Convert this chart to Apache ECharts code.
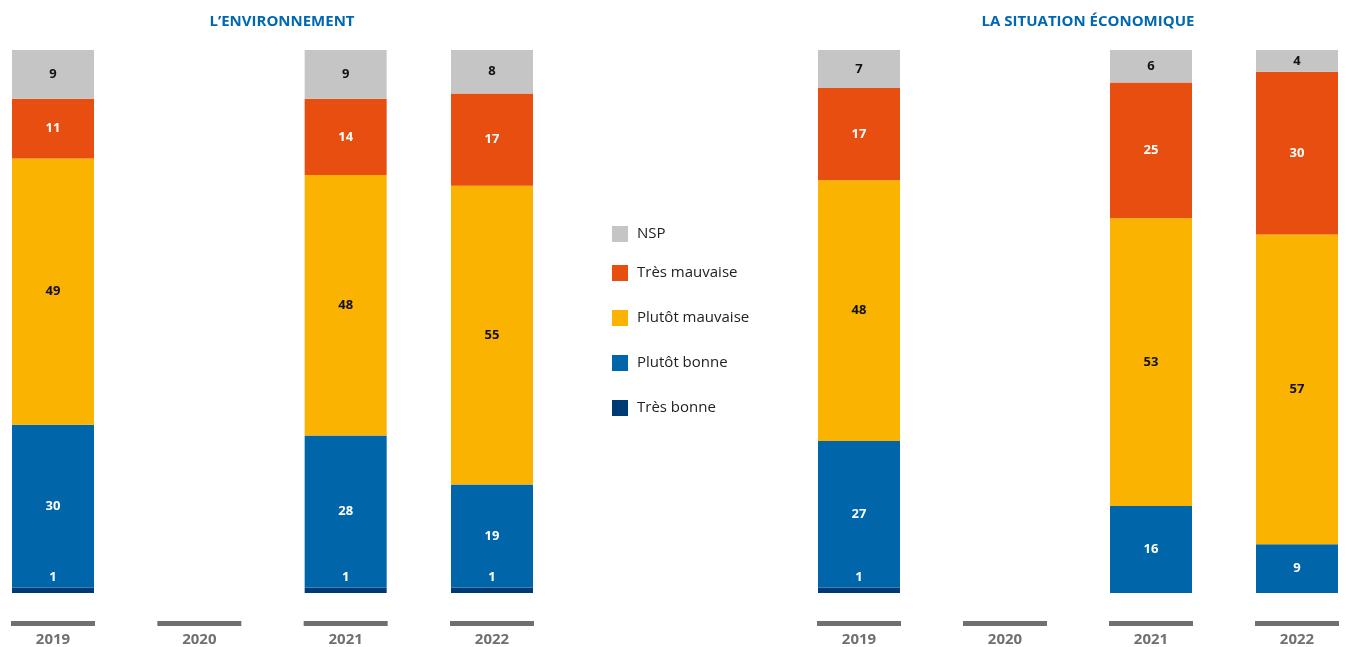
<!DOCTYPE html>
<html><head><meta charset="utf-8">
<script src="https://cdn.jsdelivr.net/npm/echarts@6/dist/echarts.min.js"></script>
<style>html,body{margin:0;padding:0;background:#fff}#c{width:1346px;height:647px}</style>
</head><body><div id="c"></div>
<script>
const years = ['2019', '2020', '2021', '2022'];
const seriesNames = ['Très bonne', 'Plutôt bonne', 'Plutôt mauvaise', 'Très mauvaise', 'NSP'];
const legendOrder = ['NSP', 'Très mauvaise', 'Plutôt mauvaise', 'Plutôt bonne', 'Très bonne'];
const titles = ['L\u2019ENVIRONNEMENT', 'LA SITUATION ÉCONOMIQUE'];

const envTresBonne = [1, null, 1, 1];
const envPlutotBonne = [30, null, 28, 19];
const envPlutotMauvaise = [49, null, 48, 55];
const envTresMauvaise = [11, null, 14, 17];
const envNSP = [9, null, 9, 8];

const ecoTresBonne = [1, null, 0, 0];
const ecoPlutotBonne = [27, null, 16, 9];
const ecoPlutotMauvaise = [48, null, 53, 57];
const ecoTresMauvaise = [17, null, 25, 30];
const ecoNSP = [7, null, 6, 4];

const colors = {
  'Très bonne': '#003a75',
  'Plutôt bonne': '#0066a9',
  'Plutôt mauvaise': '#f9b300',
  'Très mauvaise': '#e84e10',
  'NSP': '#c5c5c5'
};
const labelColors = {
  'Très bonne': '#ffffff',
  'Plutôt bonne': '#ffffff',
  'Plutôt mauvaise': '#111111',
  'Très mauvaise': '#ffffff',
  'NSP': '#111111'
};

const FONT = 'Open Sans';
const panels = [
  [envTresBonne, envPlutotBonne, envPlutotMauvaise, envTresMauvaise, envNSP],
  [ecoTresBonne, ecoPlutotBonne, ecoPlutotMauvaise, ecoTresMauvaise, ecoNSP]
];

const grids = [
  {left: 53, right: 854, top: 50, bottom: 52},
  {left: 859, right: 49, top: 50, bottom: 52}
];

const xAxes = grids.map((g, i) => ({
  type: 'category', gridIndex: i, data: years, boundaryGap: false,
  axisLine: {show: false}, axisTick: {show: false}, splitLine: {show: false},
  axisLabel: {
    margin: 28, interval: 0,
    formatter: v => '{bar| }\n{y|' + v + '}',
    rich: {
      bar: {width: 84, height: 5, lineHeight: 5, backgroundColor: '#707070', fontSize: 1},
      y: {fontSize: 15, fontWeight: 'bold', color: '#707070', lineHeight: 27, fontFamily: FONT}
    }
  }
}));
const yAxes = grids.map((g, i) => ({
  type: 'value', gridIndex: i, min: 0, max: 100, show: false
}));

const series = [];
panels.forEach((arrs, p) => {
  arrs.forEach((arr, k) => {
    const name = seriesNames[k];
    const isTB = name === 'Très bonne';
    series.push({
      name: name, type: 'bar', stack: 'p' + p, xAxisIndex: p, yAxisIndex: p,
      barWidth: 82, clip: false, data: arr,
      itemStyle: {color: colors[name]},
      label: {
        show: true,
        position: isTB ? 'top' : 'inside',
        distance: isTB ? 4 : 5,
        color: labelColors[name],
        fontFamily: FONT, fontWeight: 'bold', fontSize: 13,
        formatter: d => (d.value ? d.value : '')
      }
    });
  });
});

const chart = echarts.init(document.getElementById('c'), null, {renderer: 'canvas'});
chart.setOption({
  animation: false,
  title: [
    {text: titles[0], left: 277, top: 9, textAlign: 'center',
     textStyle: {fontFamily: FONT, fontSize: 15, fontWeight: 'bold', color: '#0068b1'}},
    {text: titles[1], left: 1083, top: 9, textAlign: 'center',
     textStyle: {fontFamily: FONT, fontSize: 15, fontWeight: 'bold', color: '#0068b1'}}
  ],
  legend: [
    {data: legendOrder.slice(0, 1), orient: 'vertical', left: 607, top: 221,
     itemWidth: 16, itemHeight: 16, itemGap: 29, icon: 'rect',
     textStyle: {fontFamily: FONT, fontSize: 15, color: '#222', padding: [0, 0, 0, 4]}},
    {data: legendOrder.slice(1), orient: 'vertical', left: 607, top: 260,
     itemWidth: 16, itemHeight: 16, itemGap: 29, icon: 'rect',
     textStyle: {fontFamily: FONT, fontSize: 15, color: '#222', padding: [0, 0, 0, 4]}}
  ],
  grid: grids,
  xAxis: xAxes,
  yAxis: yAxes,
  series: series
});
</script>
</body></html>
